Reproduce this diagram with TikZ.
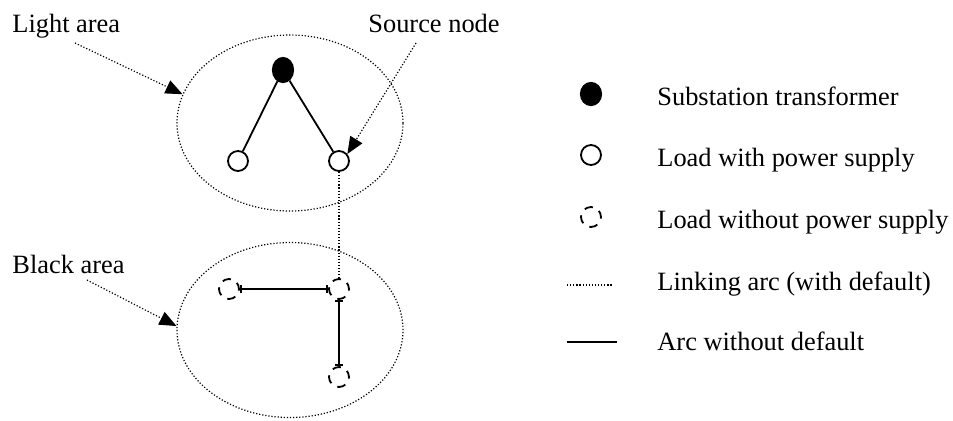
\documentclass[tikz,border=0pt]{standalone}
\usepackage{fontspec}
\setmainfont{Liberation Serif}
\usetikzlibrary{shapes.geometric,arrows.meta}
\begin{document}
\begin{tikzpicture}[x=0.5pt,y=-0.5pt,
  dotline/.style={line width=0.6pt,dash pattern=on 0.6pt off 0.95pt},
  solidline/.style={line width=0.9pt},
  area/.style={draw,ellipse,dotline,inner sep=0},
  subst/.style={ellipse,fill=black,draw,line width=0.6pt,minimum width=10.5pt,minimum height=12.5pt,inner sep=0},
  loadon/.style={circle,draw,line width=0.9pt,minimum size=10pt,inner sep=0},
  loadoff/.style={circle,draw,line width=0.9pt,dash pattern=on 4.3pt off 3.55pt,dash phase=1pt,minimum size=10pt,inner sep=0},
  lbl/.style={anchor=base west,inner sep=0,font=\fontsize{13.2}{15}\selectfont},
  callout/.style={dotline,-{Triangle[length=8.5pt,width=7pt]}},
  barline/.style={solidline,{Bar[width=4pt,line width=0.9pt]}-{Bar[width=4pt,line width=0.9pt]}}]
\useasboundingbox (0,0) rectangle (953,420);
% areas
\node[area,minimum width=113pt,minimum height=88pt] (LA) at (290,123) {};
\node[area,minimum width=113pt,minimum height=87.5pt] (BA) at (290,330) {};
% light area nodes
\node[subst] (T) at (283,70) {};
\node[loadon] (L1) at (238,161) {};
\node[loadon] (L2) at (339,161) {};
\draw[solidline] (T) -- (L1);
\draw[solidline] (T) -- (L2);
% black area nodes
\node[loadoff] (D1) at (229,289) {};
\node[loadoff] (D2) at (339,289) {};
\node[loadoff] (D3) at (339,377) {};
\draw[barline] (D1) -- (D2);
\draw[barline] (D2) -- (D3);
% linking arc
\draw[dotline] (L2) -- (D2);
% labels and callouts
\node[lbl] (tLA) at (12,32) {Light area};
\node[lbl] (tSN) at (368,32) {Source node};
\node[lbl] (tBA) at (12,273) {Black area};
\coordinate (cLA) at (75,43);
\coordinate (cSN) at (416,43);
\coordinate (cBA) at (87,280);
\draw[callout] (cLA) -- (LA.165);
\draw[callout] (cSN) -- (L2.40);
\draw[callout] (cBA) -- (BA.178);
% legend
\node[subst,minimum width=10.5pt,minimum height=11.5pt] (gT) at (591,94) {};
\node[loadon] (gL) at (591,155) {};
\node[loadoff] (gD) at (591,217) {};
\coordinate (gA1) at (567,285);
\coordinate (gA2) at (613,285);
\coordinate (gB1) at (567,342);
\coordinate (gB2) at (617,342);
\draw[dotline] (gA1) -- (gA2);
\draw[solidline] (gB1) -- (gB2);
\node[lbl] (tT) at (657,105) {Substation transformer};
\node[lbl] (tL) at (657,166) {Load with power supply};
\node[lbl] (tD) at (657,228) {Load without power supply};
\node[lbl] (tA) at (657,290) {Linking arc (with default)};
\node[lbl] (tB) at (657,350) {Arc without default};
\end{tikzpicture}
\end{document}
